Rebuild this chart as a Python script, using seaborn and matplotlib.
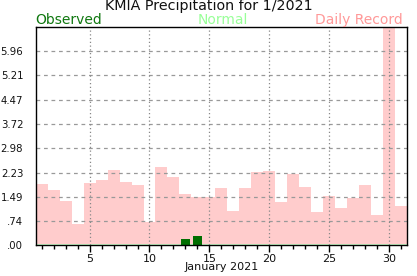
import matplotlib
matplotlib.use("Agg")
import matplotlib.pyplot as plt
import seaborn as sns
import pandas as pd
from matplotlib.ticker import FixedLocator, MultipleLocator

days = list(range(1, 32))
record = [1.89, 1.70, 1.36, 0.66, 1.92, 2.00, 2.31, 1.95, 1.86, 0.71,
          2.41, 2.10, 1.58, 1.47, 1.47, 1.76, 1.05, 1.76, 2.25, 2.28,
          1.33, 2.19, 1.79, 1.02, 1.51, 1.15, 1.45, 1.86, 0.93, 7.20, 1.21]
normal = [0.05, 0.05, 0.05, 0.05, 0.05, 0.05, 0.05, 0.05, 0.05, 0.05,
          0.05, 0.05, 0.05, 0.05, 0.05, 0.05, 0.05, 0.05, 0.05, 0.05,
          0.05, 0.05, 0.05, 0.05, 0.05, 0.05, 0.05, 0.05, 0.05, 0.05, 0.05]
observed_days = [13, 14, 18]
observed = [0.20, 0.29, 0.02]
y_max = 6.70
ytick_vals = [0.0, 0.7444, 1.4889, 2.2333, 2.9778, 3.7222, 4.4667, 5.2111, 5.9556]
ytick_labels = [".00", ".74", "1.49", "2.23", "2.98", "3.72", "4.47", "5.21", "5.96"]
xtick_vals = [5, 10, 15, 20, 25, 30]

sns.set_theme(style="white")
plt.rcParams['font.family'] = ['DejaVu Sans']

rec_color = "#ffcccc"
obs_color = "#006e00"
norm_color = "#ccffcc"

fig = plt.figure(figsize=(4.17, 2.76), dpi=100)
ax = fig.add_axes([0.0856, 0.111, 0.8905, 0.792])

df_rec = pd.DataFrame({"day": days, "val": record})
df_norm = pd.DataFrame({"day": days, "val": normal})
df_obs = pd.DataFrame({"day": observed_days, "val": observed})

sns.barplot(data=df_rec, x="day", y="val", native_scale=True, width=1.0,
            color=rec_color, saturation=1, linewidth=0, ax=ax, zorder=1)
sns.barplot(data=df_norm, x="day", y="val", native_scale=True, width=1.0,
            color=norm_color, saturation=1, linewidth=0, ax=ax, zorder=2)
sns.barplot(data=df_obs, x="day", y="val", native_scale=True, width=0.7,
            color=obs_color, saturation=1, linewidth=0, ax=ax, zorder=3)

ax.set_xlim(0.5, 31.5)
ax.set_ylim(0, y_max)
ax.set_xlabel("January 2021", fontsize=8, labelpad=-1, color="#111111")
ax.set_ylabel("")

ax.yaxis.set_major_locator(FixedLocator(ytick_vals))
ax.set_yticklabels(ytick_labels, fontsize=7.3, color="#111111")
ax.xaxis.set_major_locator(FixedLocator(xtick_vals))
ax.set_xticklabels([str(v) for v in xtick_vals], fontsize=8, color="#111111")
ax.xaxis.set_minor_locator(MultipleLocator(1))
ax.tick_params(axis="x", which="major", bottom=True, length=5, width=1, color="black", pad=1)
ax.tick_params(axis="x", which="minor", bottom=True, length=3, width=1, color="black")
ax.tick_params(axis="y", which="both", left=False, pad=3)

for v in ytick_vals[1:]:
    ax.axhline(v, color="#999999", linestyle=(0, (3, 3)), linewidth=0.9, zorder=4)
for v in xtick_vals:
    ax.axvline(v, color="#888888", linestyle=(0, (1, 2)), linewidth=0.9, zorder=4)

for s in ax.spines.values():
    s.set_color("black")
    s.set_linewidth(1.0)
    s.set_visible(True)
    s.set_zorder(5)

fig.text(0.5, 0.977, "KMIA Precipitation for 1/2021", ha="center", va="center",
         fontsize=10.3, color="#111111")
fig.text(0.0856, 0.927, "Observed", ha="left", va="center", fontsize=10, color="#107810")
fig.text(0.534, 0.927, "Normal", ha="center", va="center", fontsize=10, color="#99ff99")
fig.text(0.967, 0.927, "Daily Record", ha="right", va="center", fontsize=10, color="#ff9999")

fig.savefig("out.png", dpi=100)
